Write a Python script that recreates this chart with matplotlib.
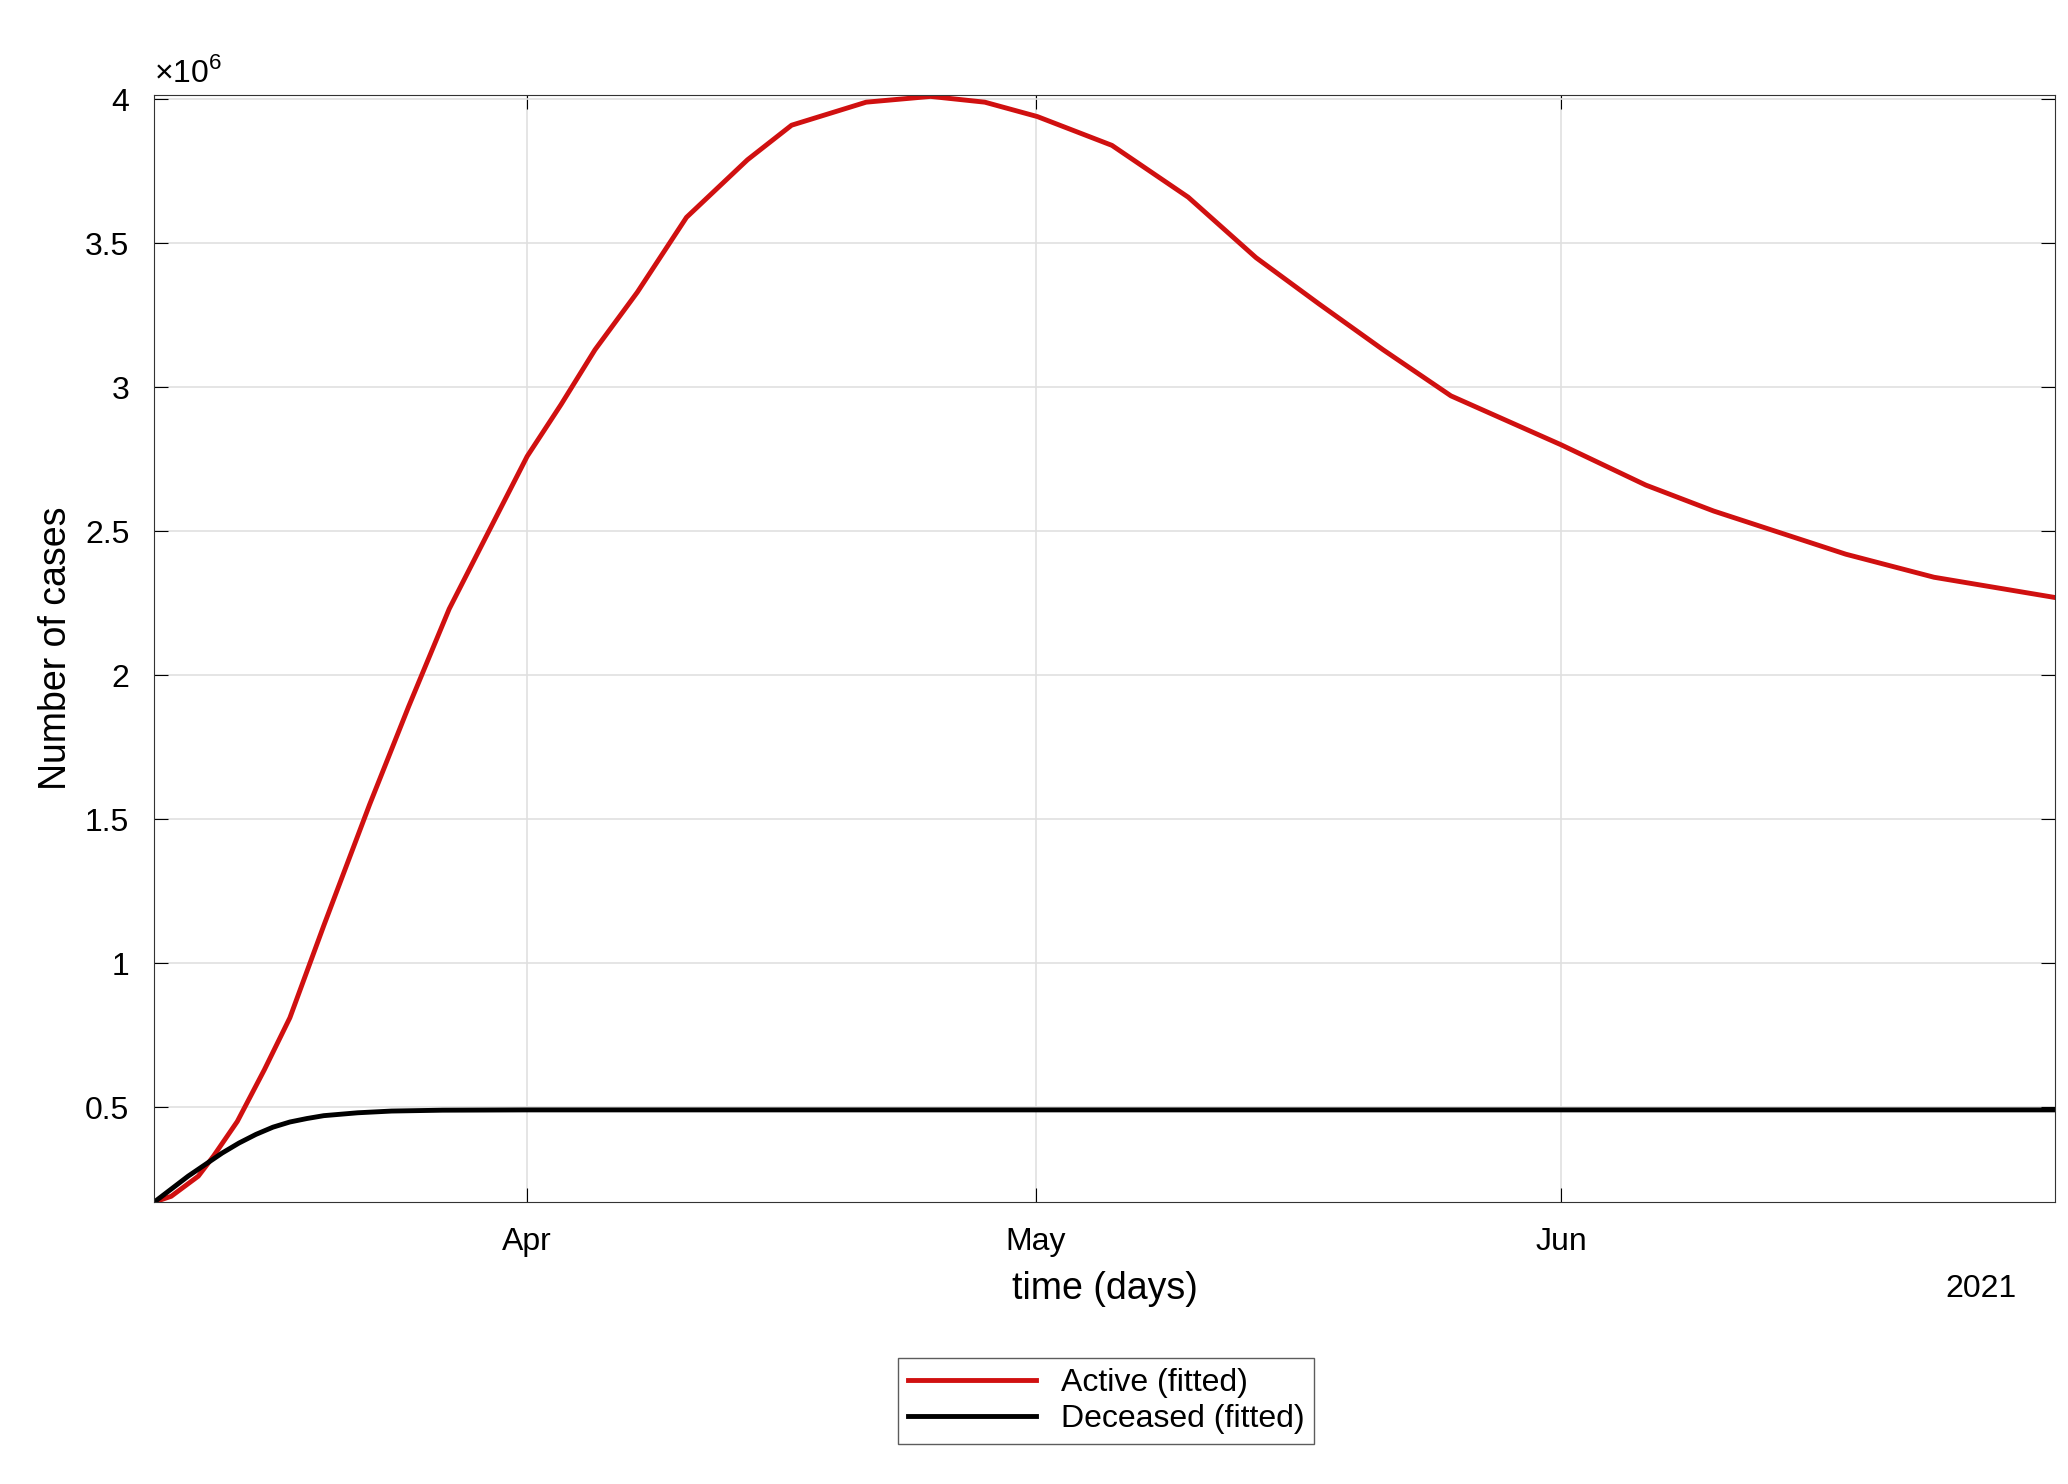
import matplotlib
matplotlib.use("Agg")
import matplotlib.pyplot as plt
import numpy as np
import datetime as dt

plt.rcParams['font.family'] = ['Liberation Sans', 'DejaVu Sans']
plt.rcParams['mathtext.fontset'] = 'custom'
plt.rcParams['mathtext.rm'] = 'Liberation Sans'

start = dt.datetime(2021, 3, 10)
active_days = [0, 1, 2.6, 3.5, 4.9, 6.5, 8, 10, 12.7, 15, 17.4, 20, 22, 24, 26, 28.5, 31.4, 35, 37.6, 42, 45.8, 49, 52.1, 56.5, 61, 65, 68.7, 72.5, 76.5, 83, 88, 92, 99.8, 105, 112.1]
active_vals = [0.17, 0.19, 0.26, 0.33, 0.45, 0.63, 0.81, 1.13, 1.55, 1.89, 2.23, 2.53, 2.76, 2.94, 3.13, 3.33, 3.59, 3.79, 3.91, 3.99, 4.01, 3.99, 3.94, 3.84, 3.66, 3.45, 3.29, 3.13, 2.97, 2.80, 2.66, 2.57, 2.42, 2.34, 2.27]
dec_days = [0, 1, 2, 3, 4, 5, 6, 7, 8, 9, 10, 12, 14, 17, 22, 60, 112.1]
dec_vals = [0.17, 0.215, 0.26, 0.30, 0.34, 0.375, 0.405, 0.43, 0.448, 0.46, 0.47, 0.48, 0.486, 0.489, 0.49, 0.49, 0.49]

def to_dates(d):
    return [start + dt.timedelta(days=x) for x in d]

fig = plt.figure(figsize=(20.68, 14.84), dpi=100)
ax = fig.add_axes([0.0746, 0.190, 0.919, 0.746])
ax.plot(to_dates(active_days), np.array(active_vals) * 1e6, color='#d01010', lw=3.5, label='Active (fitted)')
ax.plot(to_dates(dec_days), np.array(dec_vals) * 1e6, color='black', lw=3.5, label='Deceased (fitted)')
ax.set_xlim(start, dt.datetime(2021, 6, 30, 3))
ax.set_ylim(0.17e6, 4.015e6)
ax.set_yticks([0.5e6, 1e6, 1.5e6, 2e6, 2.5e6, 3e6, 3.5e6, 4e6])
ax.set_yticklabels(['0.5', '1', '1.5', '2', '2.5', '3', '3.5', '4'])
ax.set_xticks([dt.datetime(2021, 4, 1), dt.datetime(2021, 5, 1), dt.datetime(2021, 6, 1)])
ax.set_xticklabels(['Apr', 'May', 'Jun'])
ax.tick_params(labelsize=23, direction='in', length=10, top=True, right=True, pad=18)
ax.grid(True, color='#e0e0e0', lw=1.2)
for s in ax.spines.values():
    s.set_color('#333333')
ax.text(0, 1.005, r'$\times10^6$', transform=ax.transAxes, fontsize=23, va='bottom')
ax.text(0.98, -0.065, '2021', transform=ax.transAxes, fontsize=23, ha='right', va='top')
ax.set_xlabel('time (days)', fontsize=27, labelpad=10)
ax.set_ylabel('Number of cases', fontsize=27, labelpad=8)
fig.legend(loc='center', bbox_to_anchor=(0.535, 0.056), fontsize=23, fancybox=False,
           edgecolor='#333333', handlelength=4, borderpad=0.3, labelspacing=0.2)
fig.savefig('out.png')
